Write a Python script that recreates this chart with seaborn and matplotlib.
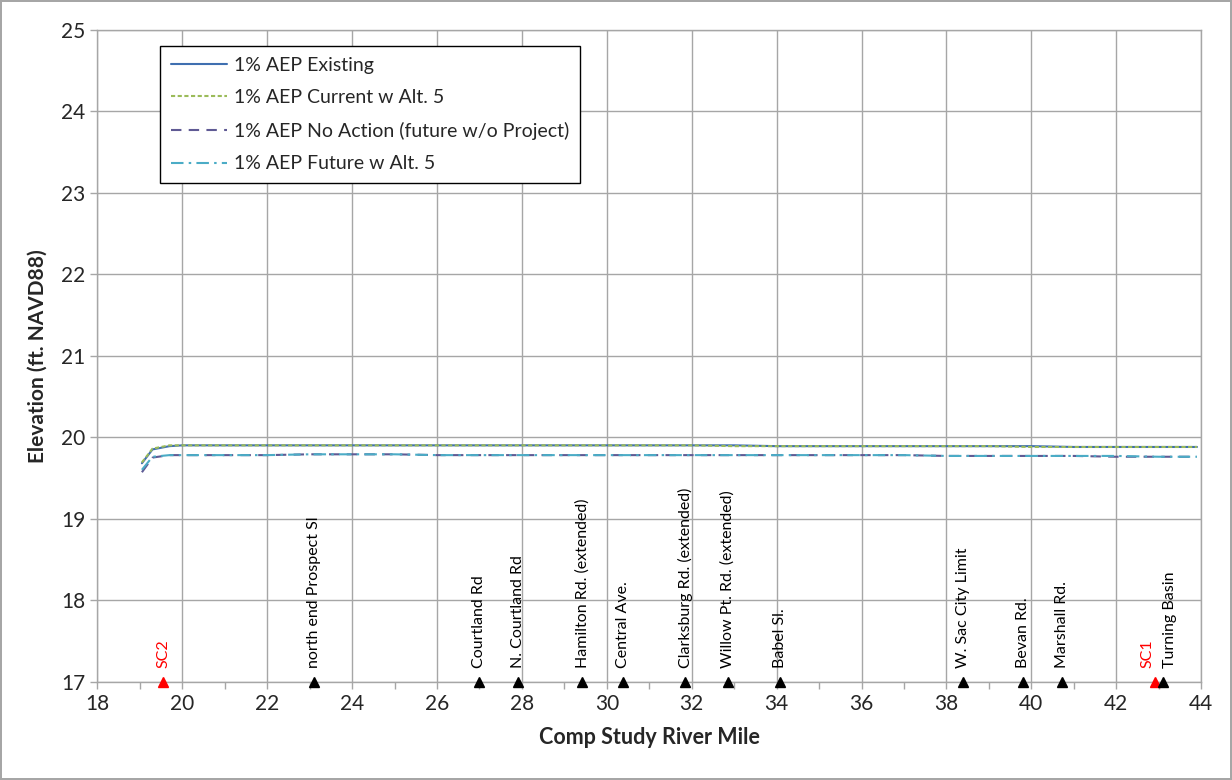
import numpy as np
import pandas as pd
import matplotlib
matplotlib.use("Agg")
import matplotlib.pyplot as plt
from matplotlib.ticker import MultipleLocator
import seaborn as sns

# river mile stations along the profile
river_mile = [19.05, 19.3, 19.7, 20.0, 21.0, 22.0, 23.0, 24.0, 25.0, 26.0, 27.0, 28.0,
              29.0, 30.0, 31.0, 32.0, 33.0, 34.0, 35.0, 36.0, 37.0, 38.0, 39.0, 40.0,
              41.0, 42.0, 43.0, 43.9]

existing = [19.68, 19.85, 19.89, 19.90, 19.90, 19.90, 19.90, 19.90, 19.90, 19.90, 19.90, 19.90,
            19.90, 19.90, 19.90, 19.90, 19.90, 19.89, 19.89, 19.89, 19.89, 19.89, 19.89, 19.89,
            19.88, 19.88, 19.88, 19.88]
current_alt5 = [19.69, 19.86, 19.90, 19.90, 19.90, 19.90, 19.90, 19.90, 19.90, 19.90, 19.90, 19.90,
                19.90, 19.90, 19.90, 19.90, 19.89, 19.89, 19.89, 19.89, 19.89, 19.89, 19.89, 19.88,
                19.88, 19.88, 19.88, 19.88]
no_action = [19.57, 19.75, 19.78, 19.78, 19.78, 19.78, 19.79, 19.79, 19.79, 19.78, 19.78, 19.78,
             19.78, 19.78, 19.78, 19.78, 19.78, 19.78, 19.78, 19.78, 19.78, 19.77, 19.77, 19.77,
             19.77, 19.76, 19.76, 19.76]
future_alt5 = [19.60, 19.76, 19.78, 19.78, 19.78, 19.78, 19.79, 19.79, 19.79, 19.78, 19.78, 19.78,
               19.78, 19.78, 19.78, 19.78, 19.78, 19.78, 19.78, 19.78, 19.78, 19.77, 19.77, 19.77,
               19.77, 19.77, 19.76, 19.76]

series_names = ["1% AEP Existing", "1% AEP Current w Alt. 5",
                "1% AEP No Action (future w/o Project)", "1% AEP Future w Alt. 5"]

# landmarks along the river
landmark_names = ["SC2", "north end Prospect Sl", "Courtland Rd", "N. Courtland Rd",
                  "Hamilton Rd. (extended)", "Central Ave.", "Clarksburg Rd. (extended)",
                  "Willow Pt. Rd. (extended)", "Babel Sl.", "W. Sac City Limit", "Bevan Rd.",
                  "Marshall Rd.", "SC1", "Turning Basin"]
landmark_miles = [19.55, 23.1, 27.0, 27.9, 29.42, 30.38, 31.85, 32.85, 34.07, 38.38, 39.8,
                  40.71, 42.91, 43.1]
landmark_red = ["SC2", "SC1"]

df = pd.DataFrame({"mile": river_mile, series_names[0]: existing, series_names[1]: current_alt5,
                   series_names[2]: no_action, series_names[3]: future_alt5})

sns.set_style("white")
plt.rcParams["font.family"] = ["Lato", "DejaVu Sans"]

fig = plt.figure(figsize=(12.32, 7.8), dpi=100, linewidth=1.5, edgecolor="#a6a6a6")
ax = fig.add_axes([0.079, 0.126, 0.896, 0.836])

styles = [
    dict(color="#3f6fb0", linestyle="-"),
    dict(color="#9bbb59", linestyle=(0, (2, 1.2))),
    dict(color="#5f5a94", linestyle=(0, (5, 3.5))),
    dict(color="#4bacc6", linestyle=(0, (6, 2.5, 1.2, 2.5))),
]
for name, st in zip(series_names, styles):
    sns.lineplot(data=df, x="mile", y=name, ax=ax, label=name, linewidth=1.5, **st)

for name, mi in zip(landmark_names, landmark_miles):
    col = "#ff0000" if name in landmark_red else "black"
    dx = -5 if name == "SC1" else (5 if name == "Turning Basin" else 0)
    ax.plot([mi], [17], marker="^", color=col, markersize=7, clip_on=False, zorder=5)
    ax.annotate(name, (mi, 17), xytext=(dx, 10), textcoords="offset points",
                rotation=90, ha="center", va="bottom", fontsize=11.5, color=col)

ax.set_xlim(18, 44)
ax.set_ylim(17, 25)
ax.xaxis.set_major_locator(MultipleLocator(2))
ax.xaxis.set_minor_locator(MultipleLocator(1))
ax.yaxis.set_major_locator(MultipleLocator(1))
ax.grid(True, which="major", color="#a6a6a6", linewidth=1)
ax.tick_params(axis="both", which="major", direction="out", length=5, width=1,
               color="#a6a6a6", labelsize=15, bottom=True, left=True)
ax.tick_params(axis="x", which="minor", direction="out", length=5, width=1,
               color="#a6a6a6", bottom=True)
for sp in ax.spines.values():
    sp.set_color("#a6a6a6")
    sp.set_linewidth(1)

ax.set_xlabel("Comp Study River Mile", fontsize=15.5, fontweight="bold", labelpad=10)
ax.set_ylabel("Elevation (ft. NAVD88)", fontsize=15, fontweight="bold", labelpad=10)

leg = ax.legend(loc="upper left", bbox_to_anchor=(0.057, 0.975), borderaxespad=0,
                fontsize=14, frameon=True, fancybox=False, edgecolor="black", framealpha=1,
                handlelength=2.9, labelspacing=0.8, borderpad=0.55, handletextpad=0.35)
leg.get_frame().set_linewidth(1)

fig.savefig("out.png", dpi=100)
